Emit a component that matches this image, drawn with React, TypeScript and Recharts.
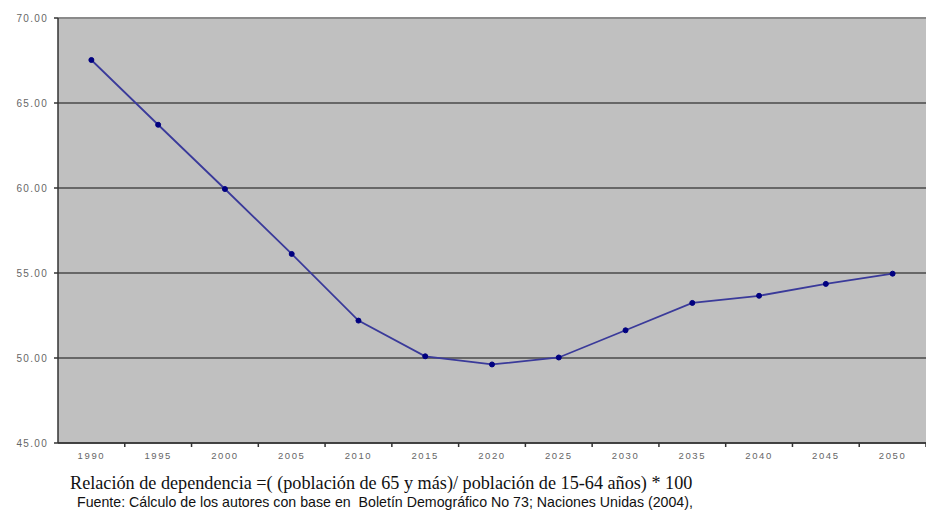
import { LineChart, Line, XAxis, YAxis, CartesianGrid, ReferenceLine } from "recharts";

// Relación de dependencia por año
const years = ["1990", "1995", "2000", "2005", "2010", "2015", "2020", "2025", "2030", "2035", "2040", "2045", "2050"];
const ratio = [67.53, 63.72, 59.94, 56.12, 52.2, 50.1, 49.62, 50.03, 51.63, 53.24, 53.66, 54.36, 54.96];
const yTicks = [45, 50, 55, 60, 65, 70];

const formula = "Relación de dependencia =( (población de 65 y más)/ población de 15-64 años) * 100";
const source = "Fuente: Cálculo de los autores con base en  Boletín Demográfico No 73; Naciones Unidas (2004),";

const CHART_W = 926;
const Y_AXIS_W = 58;
const BAND = (CHART_W - Y_AXIS_W) / years.length;

const data = years.map((y, i) => ({ year: y, value: ratio[i] }));

// label at band centre, tick mark at band boundary
const YearTick = ({ x, y, payload }: any) => (
    <g>
        <line x1={x + BAND / 2} x2={x + BAND / 2} y1={y - 8} y2={y - 4} stroke="#333" strokeWidth={1.5} />
        <text x={x} y={y + 8} textAnchor="middle" fontSize={9.5} fill="#666" fontFamily="Liberation Sans, Arial" letterSpacing={1.6}>
            {payload.value}
        </text>
    </g>
);

export default function App() {
    return (
        <div style={{ position: "absolute", left: 0, top: 0, width: 926, height: 513, background: "#fff", overflow: "hidden" }}>
            <LineChart width={CHART_W} height={471} data={data} margin={{ top: 18, right: 0, left: 0, bottom: 0 }}>
                <CartesianGrid vertical={false} fill="#c0c0c0" stroke="#4a4a4a" strokeWidth={1.5} />
                {/* top edge of plot area is lighter than the gridlines */}
                <ReferenceLine y={70} stroke="#8a8a8a" strokeWidth={2} />
                <XAxis
                    dataKey="year"
                    height={28}
                    padding={{ left: BAND / 2, right: BAND / 2 }}
                    axisLine={{ stroke: "#333", strokeWidth: 1.5 }}
                    tickLine={false}
                    tick={<YearTick />}
                    interval={0}
                />
                <YAxis
                    width={Y_AXIS_W}
                    domain={[45, 70]}
                    ticks={yTicks}
                    tickFormatter={(v) => v.toFixed(2)}
                    axisLine={{ stroke: "#333", strokeWidth: 1.5 }}
                    tickLine={{ stroke: "#333", strokeWidth: 1.5 }}
                    tickSize={4}
                    tickMargin={6}
                    tick={{ fontSize: 10, fill: "#666", fontFamily: "Liberation Sans, Arial", letterSpacing: 1.3 }}
                />
                <Line
                    type="linear"
                    dataKey="value"
                    stroke="#3a3a9a"
                    strokeWidth={1.8}
                    dot={{ r: 2.5, fill: "#000080", stroke: "#000080", strokeWidth: 1 }}
                    isAnimationActive={false}
                />
            </LineChart>
            <div style={{ position: "absolute", left: 70, top: 472, fontFamily: "Liberation Serif, Times New Roman, serif", fontSize: 18.2, lineHeight: "22px", color: "#111", whiteSpace: "pre" }}>
                {formula}
            </div>
            <div style={{ position: "absolute", left: 77, top: 493, fontFamily: "Liberation Sans, Arial, sans-serif", fontSize: 14.2, lineHeight: "18px", color: "#111", whiteSpace: "pre" }}>
                {source}
            </div>
        </div>
    );
}
